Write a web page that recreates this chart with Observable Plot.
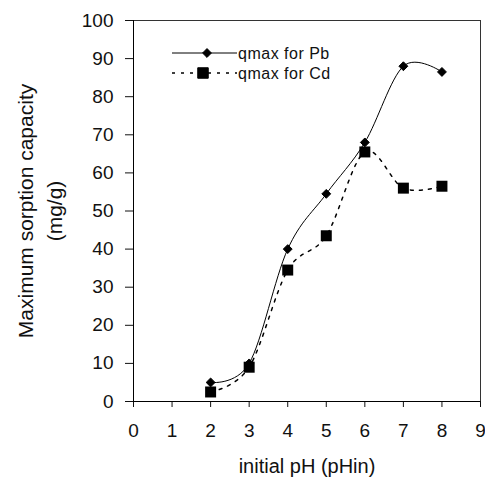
<!DOCTYPE html>
<html><head><meta charset="utf-8">
<script src="https://cdn.jsdelivr.net/npm/d3@7"></script>
<script src="https://cdn.jsdelivr.net/npm/@observablehq/plot@0.6"></script>
<style>
body{margin:0;background:#fff;}
#wrap{position:relative;width:485px;height:482px;}
#wrap svg{font-family:"Liberation Sans",Arial,sans-serif;}
</style></head><body><div id="wrap"></div>
<script>
const pH = [2, 3, 4, 5, 6, 7, 8];
const qPb = [5, 10, 40, 54.5, 68, 88, 86.5];
const qCd = [2.5, 9, 34.5, 43.5, 65.5, 56, 56.5];
const xTicks = [0,1,2,3,4,5,6,7,8,9];
const yTicks = [0,10,20,30,40,50,60,70,80,90,100];
const seriesNames = ["qmax for Pb", "qmax for Cd"];
const xTitle = "initial pH (pHin)";
const yTitle = ["Maximum sorption capacity", "(mg/g)"];

const pb = pH.map((x,i)=>({x, y:qPb[i]}));
const cd = pH.map((x,i)=>({x, y:qCd[i]}));

const chart = Plot.plot({
  width: 485, height: 482,
  marginLeft: 133, marginRight: 5, marginTop: 20, marginBottom: 81,
  style: {fontFamily: "Liberation Sans, Arial, sans-serif", fontSize: "19px", color: "#111", background: "#fff"},
  x: {domain: [0, 9]},
  y: {domain: [0, 100]},
  marks: [
    Plot.ruleY([100], {stroke: "#333", strokeWidth: 1}),
    Plot.ruleX([9], {stroke: "#333", strokeWidth: 1}),
    Plot.axisX({ticks: xTicks, tickSize: 6, tickPadding: 16, fontSize: 19, label: null, strokeOpacity: 1}),
    Plot.axisY({ticks: yTicks, tickSize: 8, tickPadding: 12, fontSize: 19, label: null, strokeOpacity: 1}),
    Plot.ruleX([0], {stroke: "#000"}),
    Plot.ruleY([0], {stroke: "#000"}),
    Plot.line(cd, {x: "x", y: "y", curve: "cardinal", stroke: "#000", strokeWidth: 1.5, strokeDasharray: "3,6"}),
    Plot.line(pb, {x: "x", y: "y", curve: "cardinal", stroke: "#000", strokeWidth: 1}),
    Plot.dot(cd, {x: "x", y: "y", symbol: "square", fill: "#000", r: 6.2}),
    Plot.dot(pb, {x: "x", y: "y", symbol: "diamond2", fill: "#000", stroke: "#000", strokeWidth: 1, r: 4}),
    Plot.text([xTitle], {frameAnchor: "bottom", lineAnchor: "middle", textAnchor: "middle", dy: 65, fontSize: 20}),
    Plot.text([yTitle[0]], {frameAnchor: "left", lineAnchor: "middle", textAnchor: "middle", dx: -107, rotate: -90, fontSize: 21}),
    Plot.text([yTitle[1]], {frameAnchor: "left", lineAnchor: "middle", textAnchor: "middle", dx: -78, rotate: -90, fontSize: 21})
  ]
});
document.getElementById("wrap").appendChild(chart);

// legend overlay
const svg = d3.select(chart);
const lg = svg.append("g").attr("font-size", 16).attr("fill", "#111")
  .attr("font-family", "Liberation Sans, Arial, sans-serif").attr("text-anchor", "start");
const rows = [
  {name: seriesNames[0], dash: null, sym: d3.symbolDiamond2, size: 50, cx: 207},
  {name: seriesNames[1], dash: "3,6", sym: d3.symbolSquare, size: 110, cx: 203}
];
rows.forEach((r, i) => {
  const yy = 53 + i * 20;
  lg.append("line").attr("x1", 172).attr("x2", 237).attr("y1", yy).attr("y2", yy)
    .attr("stroke", "#000").attr("stroke-width", r.dash ? 1.5 : 1).attr("stroke-dasharray", r.dash);
  lg.append("path").attr("d", d3.symbol(r.sym, r.size)()).attr("transform", `translate(${r.cx},${yy})`)
    .attr("fill", "#000").attr("stroke", "#000");
  lg.append("text").attr("x", 238).attr("y", yy).attr("dy", "0.35em").attr("letter-spacing", "0.5px").text(r.name);
});
</script></body></html>
